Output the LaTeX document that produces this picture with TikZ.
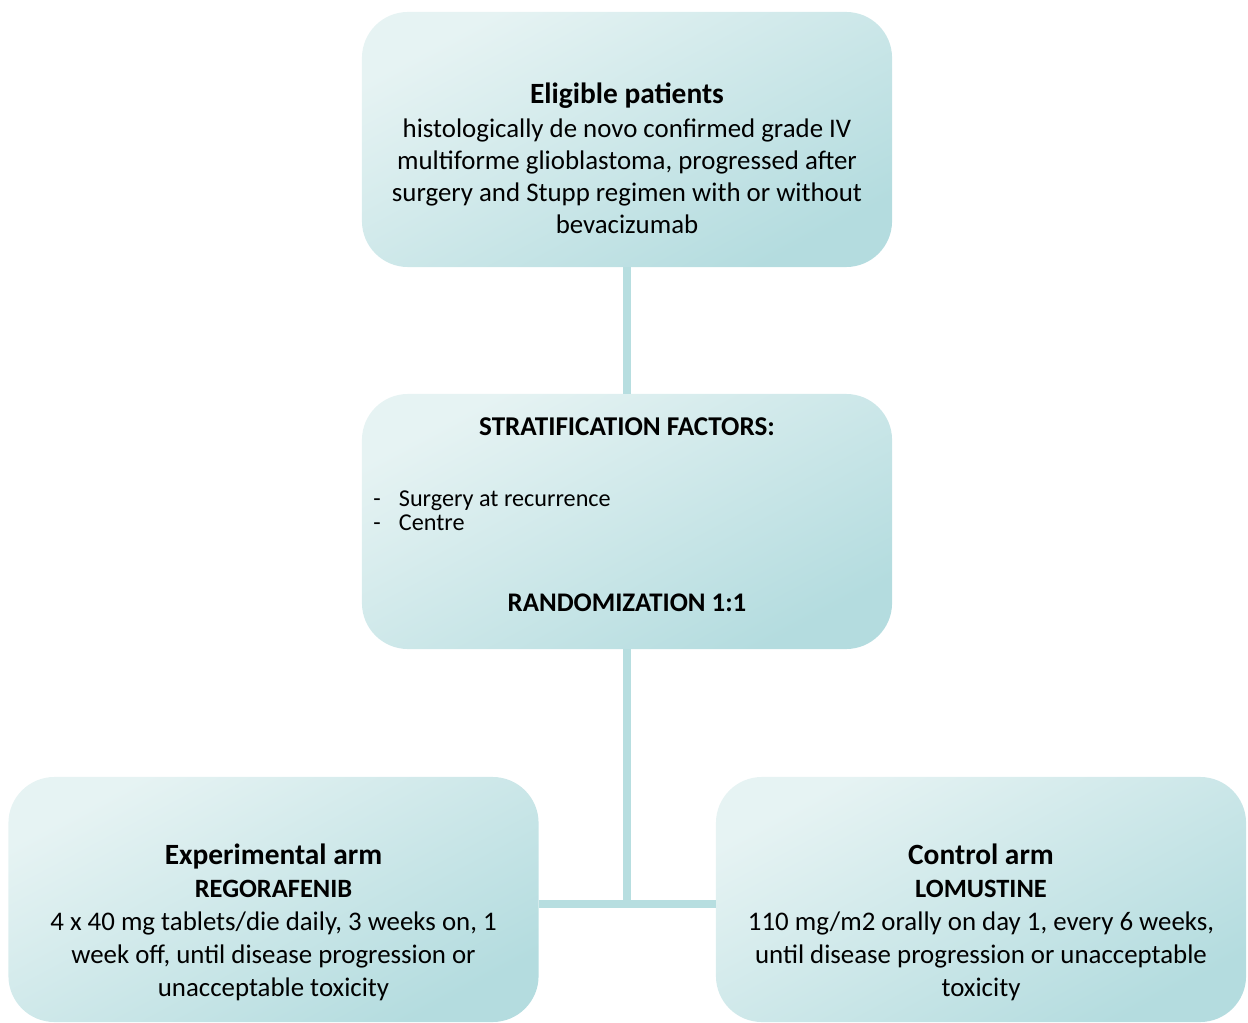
\documentclass[tikz,border=0pt]{standalone}
\usepackage{fontspec}
\setmainfont{Carlito}
\usetikzlibrary{positioning}
\definecolor{boxlight}{HTML}{E6F3F3}
\definecolor{boxdark}{HTML}{B4DCDF}
\definecolor{linkcol}{HTML}{B7DEE0}
\tikzstyle{stage}=[rectangle, draw=none, rounded corners=1.15cm, top color=boxlight, middle color=boxlight!85!boxdark,
        bottom color=boxdark, shading angle=28, minimum width=13.25cm, inner sep=0pt]
\tikzstyle{body}=[align=center, inner sep=0pt, font=\fontsize{19.1}{22.8}\selectfont]
\tikzstyle{link}=[draw=linkcol, line width=5.7pt]

\begin{document}
\begin{tikzpicture}[x=0.025cm,y=-0.025cm]
\useasboundingbox (0,0) rectangle (1248,1023);
\node[stage, minimum height=6.375cm] (elig) at (627,139.5) {};
\node[stage, minimum height=6.375cm] (strat) at (627,521.5) {};
\node[stage, minimum height=6.125cm] (exper) at (273.5,899.5) {};
\node[stage, minimum height=6.125cm] (ctrl) at (981,899.5) {};
\coordinate (junc) at (627,904);
% connectors
\draw[link] (elig.south) -- (strat.north);
\draw[link] (strat.south) -- (junc);
\draw[link] (exper.east |- junc) -- (ctrl.west |- junc);
% texts
\node[body, anchor=north] (eligtxt) at (627,83) {{\fontsize{20.9}{22.8}\selectfont\bfseries Eligible patients}\\[1pt]
  histologically de novo confirmed grade IV\\ multiforme glioblastoma, progressed after\\
  surgery and Stupp regimen with or without\\ bevacizumab};
\node[body, font=\fontsize{19.3}{20}\selectfont\bfseries] (strattitle) at (627,427) {STRATIFICATION FACTORS:};
\node[body, align=left, anchor=west, font=\fontsize{17.2}{17.3}\selectfont] (stratlist) at (373,511)
  {-\hspace{13pt}Surgery at recurrence\\ -\hspace{13pt}Centre};
\node[body, font=\fontsize{19.1}{20}\selectfont\bfseries] (random) at (627,603) {RANDOMIZATION 1:1};
\node[body, anchor=north, font=\fontsize{19.1}{23.4}\selectfont] (expertxt) at (273.5,844) {{\fontsize{20.9}{23.4}\selectfont\bfseries Experimental arm}\\
  {\fontsize{18.8}{23.4}\selectfont\bfseries REGORAFENIB}\\
  4 x 40 mg tablets/die daily, 3 weeks on, 1\\ week off, until disease progression or\\ unacceptable toxicity};
\node[body, anchor=north, font=\fontsize{19.1}{23.4}\selectfont] (ctrltxt) at (981,844) {{\fontsize{20.9}{23.4}\selectfont\bfseries Control arm}\\
  {\fontsize{18.8}{23.4}\selectfont\bfseries LOMUSTINE}\\
  110 mg/m2 orally on day 1, every 6 weeks,\\ until disease progression or unacceptable\\ toxicity};
\end{tikzpicture}
\end{document}
